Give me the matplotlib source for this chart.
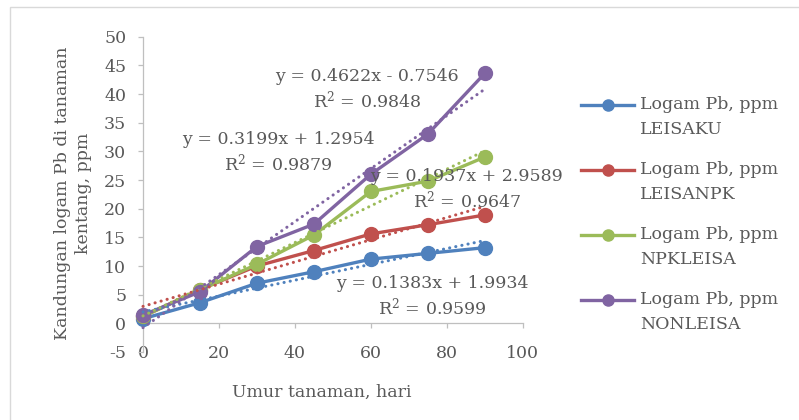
import matplotlib as mpl
import matplotlib.pyplot as plt
import numpy as np
from matplotlib.lines import Line2D
from matplotlib.patches import Rectangle

mpl.rcParams.update({
    "font.family": ["DejaVu Serif"],
    "font.size": 12.5,
    "axes.unicode_minus": False,
    "text.color": "#595959",
    "axes.labelcolor": "#595959",
    "xtick.color": "#bfbfbf",
    "ytick.color": "#bfbfbf",
    "xtick.labelcolor": "#595959",
    "ytick.labelcolor": "#595959",
})

# umur tanaman (hari) dan kadar Pb (ppm) per perlakuan
days = [0, 15, 30, 45, 60, 75, 90]
leisaku = [0.8, 3.6, 7.0, 9.0, 11.2, 12.2, 13.2]
leisanpk = [1.2, 5.9, 10.0, 12.7, 15.6, 17.2, 18.9]
npkleisa = [1.2, 5.8, 10.3, 15.4, 23.0, 24.8, 29.0]
nonleisa = [1.45, 5.5, 13.4, 17.3, 26.0, 33.0, 43.6]

series_names = ["Logam Pb, ppm\nLEISAKU", "Logam Pb, ppm\nLEISANPK",
                "Logam Pb, ppm\nNPKLEISA", "Logam Pb, ppm\nNONLEISA"]
series_colors = ["#4f81bd", "#c0504d", "#9bbb59", "#8064a2"]

# koefisien trendline linear (slope, intercept, R^2)
trend_slope = [0.1383, 0.1937, 0.3199, 0.4622]
trend_icpt = [1.9934, 2.9589, 1.2954, -0.7546]
trend_r2 = [0.9599, 0.9647, 0.9879, 0.9848]

# posisi label persamaan (data coords)
eq_pos = [(76.1, 4.6), (85.3, 23.35), (35.6, 29.8), (59.1, 40.7)]

W, H = 799, 420
fig = plt.figure(figsize=(W / 100, H / 100), dpi=100)
fig.patches.append(Rectangle((10 / W, -0.1), 1.2, 1.1 - 7 / H,
                             transform=fig.transFigure, fill=False,
                             ec="#d9d9d9", lw=1.0))

ax = fig.add_axes([143 / W, (H - 352) / H, 379.7 / W, (352 - 36.7) / H])
ax.set_xlim(0, 100)
ax.set_ylim(-5, 50)

values = [leisaku, leisanpk, npkleisa, nonleisa]
for ys, col in zip(values, series_colors):
    ax.plot(days, ys, color=col, lw=2.4, marker="o", ms=10,
            mec=col, mfc=col, clip_on=False, zorder=3)

xt = np.array([days[0], days[-1]])
for m, b, col in zip(trend_slope, trend_icpt, series_colors):
    ax.plot(xt, m * xt + b, color=col, lw=2.2, ls=(0, (0.05, 2.0)),
            dash_capstyle="round", clip_on=False, zorder=4)

for (x, y), m, b, r2 in zip(eq_pos, trend_slope, trend_icpt, trend_r2):
    sign = "+" if b >= 0 else "-"
    ax.text(x, y, f"y = {m:.4f}x {sign} {abs(b):.4f}\n$\\mathregular{{R^2}}$ = {r2:.4f}",
            ha="center", va="center", linespacing=1.25, zorder=5)

# sumbu
for s in ("top", "right"):
    ax.spines[s].set_visible(False)
ax.spines["bottom"].set_position(("data", 0))
for s in ("left", "bottom"):
    ax.spines[s].set_color("#bfbfbf")
    ax.spines[s].set_linewidth(0.9)
ax.set_xticks(range(0, 101, 20))
ax.set_yticks(range(-5, 51, 5))
ax.tick_params(axis="x", direction="out", length=3.6, width=0.9, pad=12)
ax.tick_params(axis="y", direction="out", length=3.6, width=0.9, pad=8.5)

fig.text(322 / W, 1 - 392 / H, "Umur tanaman, hari", ha="center", va="center")
fig.text(73 / W, 1 - 193 / H, "Kandungan logam Pb di tanaman\nkentang, ppm",
         ha="center", va="center", rotation=90, linespacing=1.35)

# legenda: simbol sejajar baris pertama teks
for i, (name, col) in enumerate(zip(series_names, series_colors)):
    yc = 1 - (105 + 65 * i) / H
    fig.add_artist(Line2D([581 / W, 634 / W], [yc, yc], color=col, lw=2.4))
    fig.add_artist(Line2D([607.5 / W], [yc], marker="o", ms=8,
                          color=col, mec=col))
    fig.text(640 / W, yc + 9 / H, name, ha="left", va="top", linespacing=1.6)

fig.savefig("out.png", dpi=100)
